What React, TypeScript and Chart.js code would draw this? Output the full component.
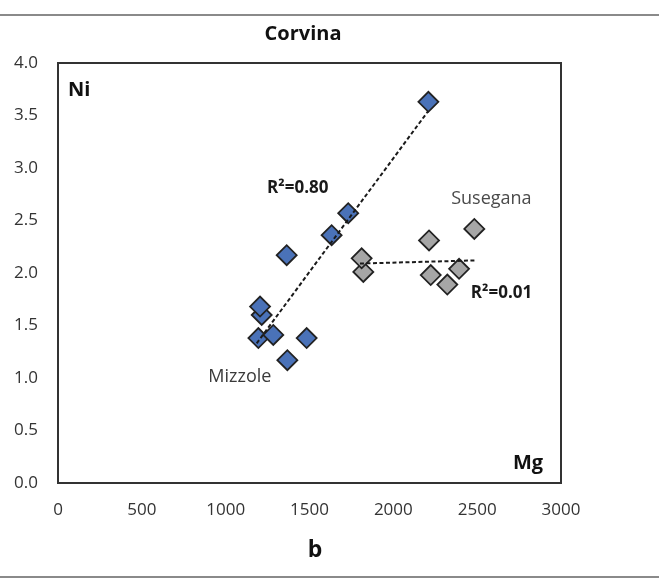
import React, { useEffect, useRef } from "react";
import { Chart, registerables } from "chart.js";

Chart.register(...registerables);

const mizzoleMg = [1195, 1284, 1483, 1368, 1364, 1215, 1205, 1632, 1731, 2209];
const mizzoleNi = [1.38, 1.41, 1.38, 1.17, 2.17, 1.60, 1.68, 2.36, 2.57, 3.63];

const susegranaMg = [1821, 1811, 2213, 2223, 2322, 2392, 2483];
const susegranaNi = [2.01, 2.14, 2.31, 1.98, 1.89, 2.04, 2.42];

const mizzoleTrendMg = [1185, 2207];
const mizzoleTrendNi = [1.33, 3.54];
const susegranaTrendMg = [1801, 2487];
const susegranaTrendNi = [2.09, 2.12];

const xTicks = [0, 500, 1000, 1500, 2000, 2500, 3000];
const yTicks = [0, 0.5, 1, 1.5, 2, 2.5, 3, 3.5, 4];

const title = "Corvina";
const subLabel = "b";
const yName = "Ni";
const xName = "Mg";
const r2Mizzole = "R²=0.80";
const r2Susegana = "R²=0.01";
const nameMizzole = "Mizzole";
const nameSusegana = "Susegana";

const FONT = "'Open Sans', 'Noto Sans', sans-serif";

const toPts = (xs: number[], ys: number[]) => xs.map((x, i) => ({ x, y: ys[i] }));

const annotPlugin = {
  id: "annot",
  beforeDraw(chart: any) {
    const ctx = chart.ctx;
    ctx.save();
    ctx.fillStyle = "#ffffff";
    ctx.fillRect(0, 0, chart.width, chart.height);
    ctx.strokeStyle = "#8a8a8a";
    ctx.lineWidth = 2;
    ctx.beginPath();
    ctx.moveTo(0, 15);
    ctx.lineTo(chart.width, 15);
    ctx.moveTo(0, 577);
    ctx.lineTo(chart.width, 577);
    ctx.stroke();
    ctx.restore();
  },
  afterDraw(chart: any) {
    const ctx = chart.ctx;
    const a = chart.chartArea;
    const xs = chart.scales.x;
    const ys = chart.scales.y;
    ctx.save();
    ctx.strokeStyle = "#333333";
    ctx.lineWidth = 2;
    ctx.strokeRect(a.left, a.top, a.right - a.left, a.bottom - a.top);

    ctx.textBaseline = "middle";
    ctx.fillStyle = "#111111";
    ctx.textAlign = "center";
    ctx.font = `bold 20px ${FONT}`;
    ctx.fillText(title, 303, 34);
    ctx.font = `bold 23px ${FONT}`;
    ctx.fillText(subLabel, 315, 550);

    ctx.textAlign = "left";
    ctx.font = `bold 20px ${FONT}`;
    ctx.fillText(yName, a.left + 10, 90);
    ctx.fillText(xName, a.right - 48, 463);

    ctx.textAlign = "center";
    ctx.font = `bold 17px ${FONT}`;
    ctx.fillStyle = "#1a1a1a";
    ctx.fillText(r2Mizzole, xs.getPixelForValue(1430), ys.getPixelForValue(2.81));
    ctx.fillText(r2Susegana, xs.getPixelForValue(2645), ys.getPixelForValue(1.81));

    ctx.font = `18px ${FONT}`;
    ctx.fillStyle = "#3a3a3a";
    ctx.fillText(nameMizzole, xs.getPixelForValue(1085), ys.getPixelForValue(1.01));
    ctx.fillStyle = "#4a4a4a";
    ctx.fillText(nameSusegana, xs.getPixelForValue(2585), ys.getPixelForValue(2.71));
    ctx.restore();
  },
};

export default function App() {
  const ref = useRef<HTMLCanvasElement | null>(null);
  useEffect(() => {
    document.body.style.margin = "0";
    const canvas = ref.current;
    if (!canvas) return;
    const pointCommon = {
      pointStyle: "rectRot",
      pointRadius: 10,
      pointHoverRadius: 10,
      pointBorderWidth: 1.8,
      pointBorderColor: "#222222",
      showLine: false,
    };
    const chart = new Chart(canvas, {
      type: "scatter",
      data: {
        datasets: [
          {
            label: "Mizzole trend",
            data: toPts(mizzoleTrendMg, mizzoleTrendNi),
            showLine: true,
            borderColor: "#1a1a1a",
            borderWidth: 2,
            borderDash: [4, 2.5],
            pointRadius: 0,
            order: 0,
          },
          {
            label: "Susegana trend",
            data: toPts(susegranaTrendMg, susegranaTrendNi),
            showLine: true,
            borderColor: "#1a1a1a",
            borderWidth: 2,
            borderDash: [4, 2.5],
            pointRadius: 0,
            order: 0,
          },
          {
            label: "Mizzole",
            data: toPts(mizzoleMg, mizzoleNi),
            backgroundColor: "#4a72b8",
            ...pointCommon,
            order: 1,
          },
          {
            label: "Susegana",
            data: toPts(susegranaMg, susegranaNi),
            backgroundColor: "#a6a6a6",
            ...pointCommon,
            order: 1,
          },
        ] as any,
      },
      options: {
        animation: false,
        responsive: false,
        maintainAspectRatio: false,
        layout: { padding: { top: 63, right: 98, bottom: 0, left: 0 } },
        plugins: {
          legend: { display: false },
          tooltip: { enabled: false },
          title: { display: false },
        },
        scales: {
          x: {
            type: "linear",
            min: 0,
            max: 3000,
            afterBuildTicks: (s: any) => {
              s.ticks = xTicks.map((v) => ({ value: v }));
            },
            afterFit: (s: any) => {
              s.height = 98;
            },
            grid: { display: false, drawTicks: false, tickLength: 0 },
            border: { display: false },
            ticks: {
              padding: 17,
              font: { family: FONT, size: 17 },
              color: "#333333",
              maxRotation: 0,
              autoSkip: false,
              callback: (v: any) => String(v),
            },
          },
          y: {
            type: "linear",
            min: 0,
            max: 4,
            afterBuildTicks: (s: any) => {
              s.ticks = yTicks.map((v) => ({ value: v }));
            },
            afterFit: (s: any) => {
              s.width = 58;
            },
            grid: { display: false, drawTicks: false, tickLength: 0 },
            border: { display: false },
            ticks: {
              padding: 20,
              font: { family: FONT, size: 17 },
              color: "#333333",
              autoSkip: false,
              callback: (v: any) => Number(v).toFixed(1),
            },
          },
        },
      } as any,
      plugins: [annotPlugin],
    });
    return () => chart.destroy();
  }, []);
  return (
    <div style={{ position: "absolute", left: 0, top: 0, width: 659, height: 581 }}>
      <canvas ref={ref} width={659} height={581} style={{ width: 659, height: 581, display: "block" }} />
    </div>
  );
}
